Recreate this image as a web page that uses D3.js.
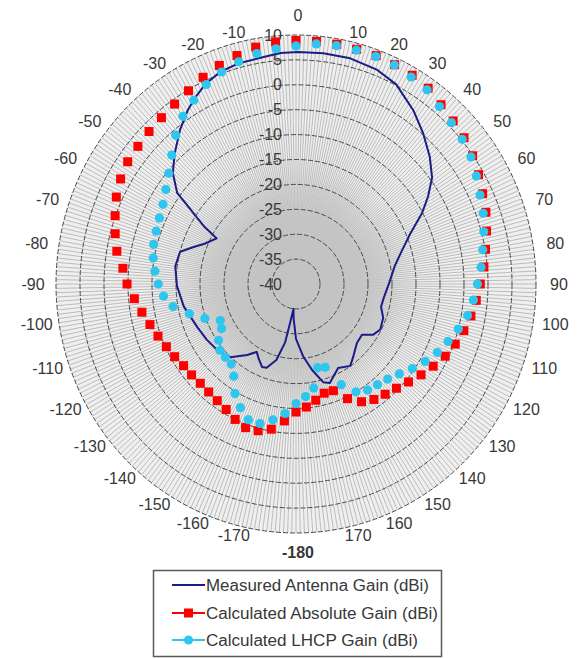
<!DOCTYPE html>
<html><head><meta charset="utf-8">
<script src="https://cdn.jsdelivr.net/npm/d3@7"></script>
<style>
body{margin:0;background:#fff}
svg{display:block}
text{font-family:"Liberation Sans",Arial,sans-serif}
</style>
</head><body>
<svg id="c" width="577" height="659"></svg>
<script>
// ---- data ----
const angleCats = [-180,-175,-170,-165,-160,-155,-150,-145,-140,-135,-130,-125,-120,-115,-110,-105,-100,-95,-90,-85,-80,-75,-70,-65,-60,-55,-50,-45,-40,-35,-30,-25,-20,-15,-10,-5,0,5,10,15,20,25,30,35,40,45,50,55,60,65,70,75,80,85,90,95,100,105,110,115,120,125,130,135,140,145,150,155,160,165,170,175];
const angleLabels = [0,10,20,30,40,50,60,70,80,90,100,110,120,130,140,150,160,170,180,-170,-160,-150,-140,-130,-120,-110,-100,-90,-80,-70,-60,-50,-40,-30,-20,-10];
const radialTicks = [-40,-35,-30,-25,-20,-15,-10,-5,0,5,10];
const absGain = [-14.3,-12.4,-10.4,-9.5,-9.3,-10.0,-10.9,-11.4,-11.7,-11.8,
  -11.6,-11.4,-10.8,-10.2,-9.4,-8.5,-7.4,-6.2,-4.8,-3.8,
  -2.1,-1.0,0.1,1.3,2.2,2.8,3.0,3.3,3.6,4.1,
  4.8,5.8,6.7,7.5,8.3,8.8,8.9,8.9,8.9,8.8,
  8.8,8.6,8.4,8.0,7.0,6.3,5.7,4.9,3.9,2.9,
  2.1,1.1,0.1,-0.7,-1.6,-2.3,-3.0,-3.8,-4.7,-5.7,
  -7.0,-8.2,-9.4,-10.4,-11.1,-11.7,-12.7,-14.6,-17.2,-17.3,-16.3,-15.2];
const lhcpGain = [-16.0,-13.9,-12.3,-11.0,-11.0,-12.6,-14.6,-17.4,-19.0,-19.2,
  -19.3,-20.3,-22.1,-22.6,-19.8,-17.0,-14.0,-12.3,-11.3,-10.5,
  -9.8,-9.3,-9.0,-8.6,-8.0,-6.9,-5.4,-3.4,-1.0,1.1,
  2.6,4.2,5.3,6.2,7.0,7.4,7.8,8.4,8.6,8.6,
  8.6,8.5,8.0,7.6,6.5,5.8,5.2,4.5,3.4,2.3,
  1.5,0.5,-0.5,-1.3,-2.2,-2.9,-3.7,-5.0,-6.3,-7.5,
  -8.9,-10.4,-11.9,-13.0,-13.6,-14.0,-15.0,-17.7,-22.2,-22.6,-18.8,-17.3];
const measAngles = [-180,-176,-174,-171,-169,-165,-160,-157,-153,-149,-144.5,-137,-129,-121,-113,-101,-91,-82,-75,-71,-67,-61,-59,-57,-55,-53.5,-49,-44,-38,-33,-29.5,-25.5,-20.5,-15,-9.5,-4,0.5,7,14,21.5,27.5,35,41,47.5,53,57.5,61.5,67,73,80,89.5,98.5,104.5,110.5,117.5,122.5,126.5,133,141,145.5,152.5,157.5,160.5,164,169,174,180];
const measGain = [-29,-33,-35,-32,-28,-24.2,-22.1,-21.9,-23,-24.1,-22.5,-19.9,-18.9,-18.3,-17.7,-16.2,-15.2,-14.6,-15.0,-17.3,-19.3,-21.1,-17.8,-15.2,-12.2,-9.2,-6.0,-3.6,-0.75,1.5,2.85,4.25,5.4,5.9,6.0,6.5,6.6,6.7,6.7,6.2,5.2,2.6,0.3,-2.2,-4.5,-7.4,-10.1,-14.15,-16.9,-19.1,-20.6,-21.5,-21.7,-20.6,-20.2,-21.0,-22.9,-22.65,-21.1,-20.05,-21.0,-19.8,-18.9,-19.5,-22.4,-25.3,-29];
const seriesNames = ["Measured Antenna Gain (dBi)","Calculated Absolute Gain (dBi)","Calculated LHCP Gain (dBi)"];

// ---- layout ----
const cx = 296, cy = 284, RX = 240, RY = 249;
const rScale = d3.scaleLinear().domain([-40, 10]).range([0, 1]);
const aScale = d3.scaleLinear().domain([-180, 180]).range([-Math.PI, Math.PI]);
const P = (ang, val) => {
  const t = aScale(ang), k = rScale(val);
  return [cx + RX * k * Math.sin(t), cy - RY * k * Math.cos(t)];
};
const navy = "#1c1c86", red = "#ff0000", cyan = "#2ec6ef", txt = "#383838";

const svg = d3.select("#c");
const defs = svg.append("defs");
const grad = defs.append("radialGradient").attr("id", "core");
grad.append("stop").attr("offset", "0").attr("stop-color", "#c2c2c2").attr("stop-opacity", 1);
grad.append("stop").attr("offset", "0.55").attr("stop-color", "#c4c4c4").attr("stop-opacity", 1);
grad.append("stop").attr("offset", "1").attr("stop-color", "#c8c8c8").attr("stop-opacity", 0);

// spokes (dense category axes)
const spokeAngles = d3.range(-180, 180, 1);
let sp = "";
spokeAngles.forEach(a => {
  const [x, y] = P(a, 10);
  sp += `M${cx},${cy}L${x.toFixed(2)},${y.toFixed(2)}`;
});
svg.append("ellipse").attr("cx", cx).attr("cy", cy).attr("rx", RX).attr("ry", RY)
  .attr("fill", "#efefef");
svg.append("path").attr("d", sp).attr("stroke", "#bcbcbc").attr("stroke-width", 1).attr("fill", "none");
// dense core where the spokes merge
svg.append("ellipse").attr("cx", cx).attr("cy", cy).attr("rx", RX * 0.48).attr("ry", RY * 0.48)
  .attr("fill", "url(#core)");

// gridlines
svg.append("g").selectAll("ellipse").data(radialTicks.filter(v => v > -40)).join("ellipse")
  .attr("cx", cx).attr("cy", cy)
  .attr("rx", d => RX * rScale(d)).attr("ry", d => RY * rScale(d))
  .attr("fill", "none").attr("stroke", "#4a4a4a").attr("stroke-width", 1)
  .attr("stroke-dasharray", "5,2");

// radial labels
svg.append("g").selectAll("text").data(radialTicks).join("text")
  .attr("x", cx - 14).attr("y", d => cy - RY * rScale(d))
  .attr("text-anchor", "end").attr("dominant-baseline", "central")
  .attr("font-size", 16).attr("fill", txt)
  .text(d => d);

// angle labels
svg.append("g").selectAll("text").data(angleLabels).join("text")
  .each(function(d) {
    const t = aScale(d), s = Math.sin(t), c = Math.cos(t);
    const ss = Math.abs(s) < 1e-6 ? 0 : Math.sign(s);
    const cs = Math.abs(c) < 1e-6 ? 0 : Math.sign(c);
    let x = cx + 243 * s + 20 * ss;
    let y = cy - (260 * c - 4.6 * cs);
    if (ss === 0) { y = cy - 268.5 * cs; x = cx + 2; }
    d3.select(this).attr("x", x).attr("y", y);
  })
  .attr("text-anchor", "middle").attr("dominant-baseline", "central")
  .attr("font-size", 16).attr("fill", txt)
  .attr("font-weight", d => d === 180 ? "bold" : null)
  .text(d => d === 180 ? "-180" : d);

// measured line
const measPts = measAngles.map((a, i) => P(a, measGain[i]));
svg.append("path").attr("d", d3.line()(measPts))
  .attr("fill", "none").attr("stroke", navy).attr("stroke-width", 2).attr("stroke-linejoin", "round");

// absolute gain markers
svg.append("g").selectAll("rect").data(angleCats).join("rect")
  .each(function(a, i) {
    const [x, y] = P(a, absGain[i]);
    d3.select(this).attr("x", x - 4.5).attr("y", y - 4.5);
  })
  .attr("width", 9).attr("height", 9).attr("fill", red);

// LHCP markers
svg.append("g").selectAll("circle").data(angleCats).join("circle")
  .each(function(a, i) {
    const [x, y] = P(a, lhcpGain[i]);
    d3.select(this).attr("cx", x).attr("cy", y);
  })
  .attr("r", 4.6).attr("fill", cyan);

// legend
const lg = svg.append("g");
lg.append("rect").attr("x", 153.5).attr("y", 570.5).attr("width", 288).attr("height", 86)
  .attr("fill", "#fff").attr("stroke", "#5a5a5a").attr("stroke-width", 1.5);
const rows = [585, 613, 640];
const cols = [navy, red, cyan];
const widths = [223, 232, 212];
seriesNames.forEach((n, i) => {
  const y = rows[i];
  lg.append("line").attr("x1", 172).attr("x2", 205).attr("y1", y).attr("y2", y)
    .attr("stroke", cols[i]).attr("stroke-width", 2);
  if (i === 1) lg.append("rect").attr("x", 184).attr("y", y - 4.5).attr("width", 9).attr("height", 9).attr("fill", red);
  if (i === 2) lg.append("circle").attr("cx", 188.5).attr("cy", y).attr("r", 4.6).attr("fill", cyan);
  lg.append("text").attr("x", 206).attr("y", y).attr("dominant-baseline", "central")
    .attr("font-size", 16).attr("fill", txt)
    .attr("textLength", widths[i]).attr("lengthAdjust", "spacingAndGlyphs")
    .text(n);
});
</script>
</body></html>
